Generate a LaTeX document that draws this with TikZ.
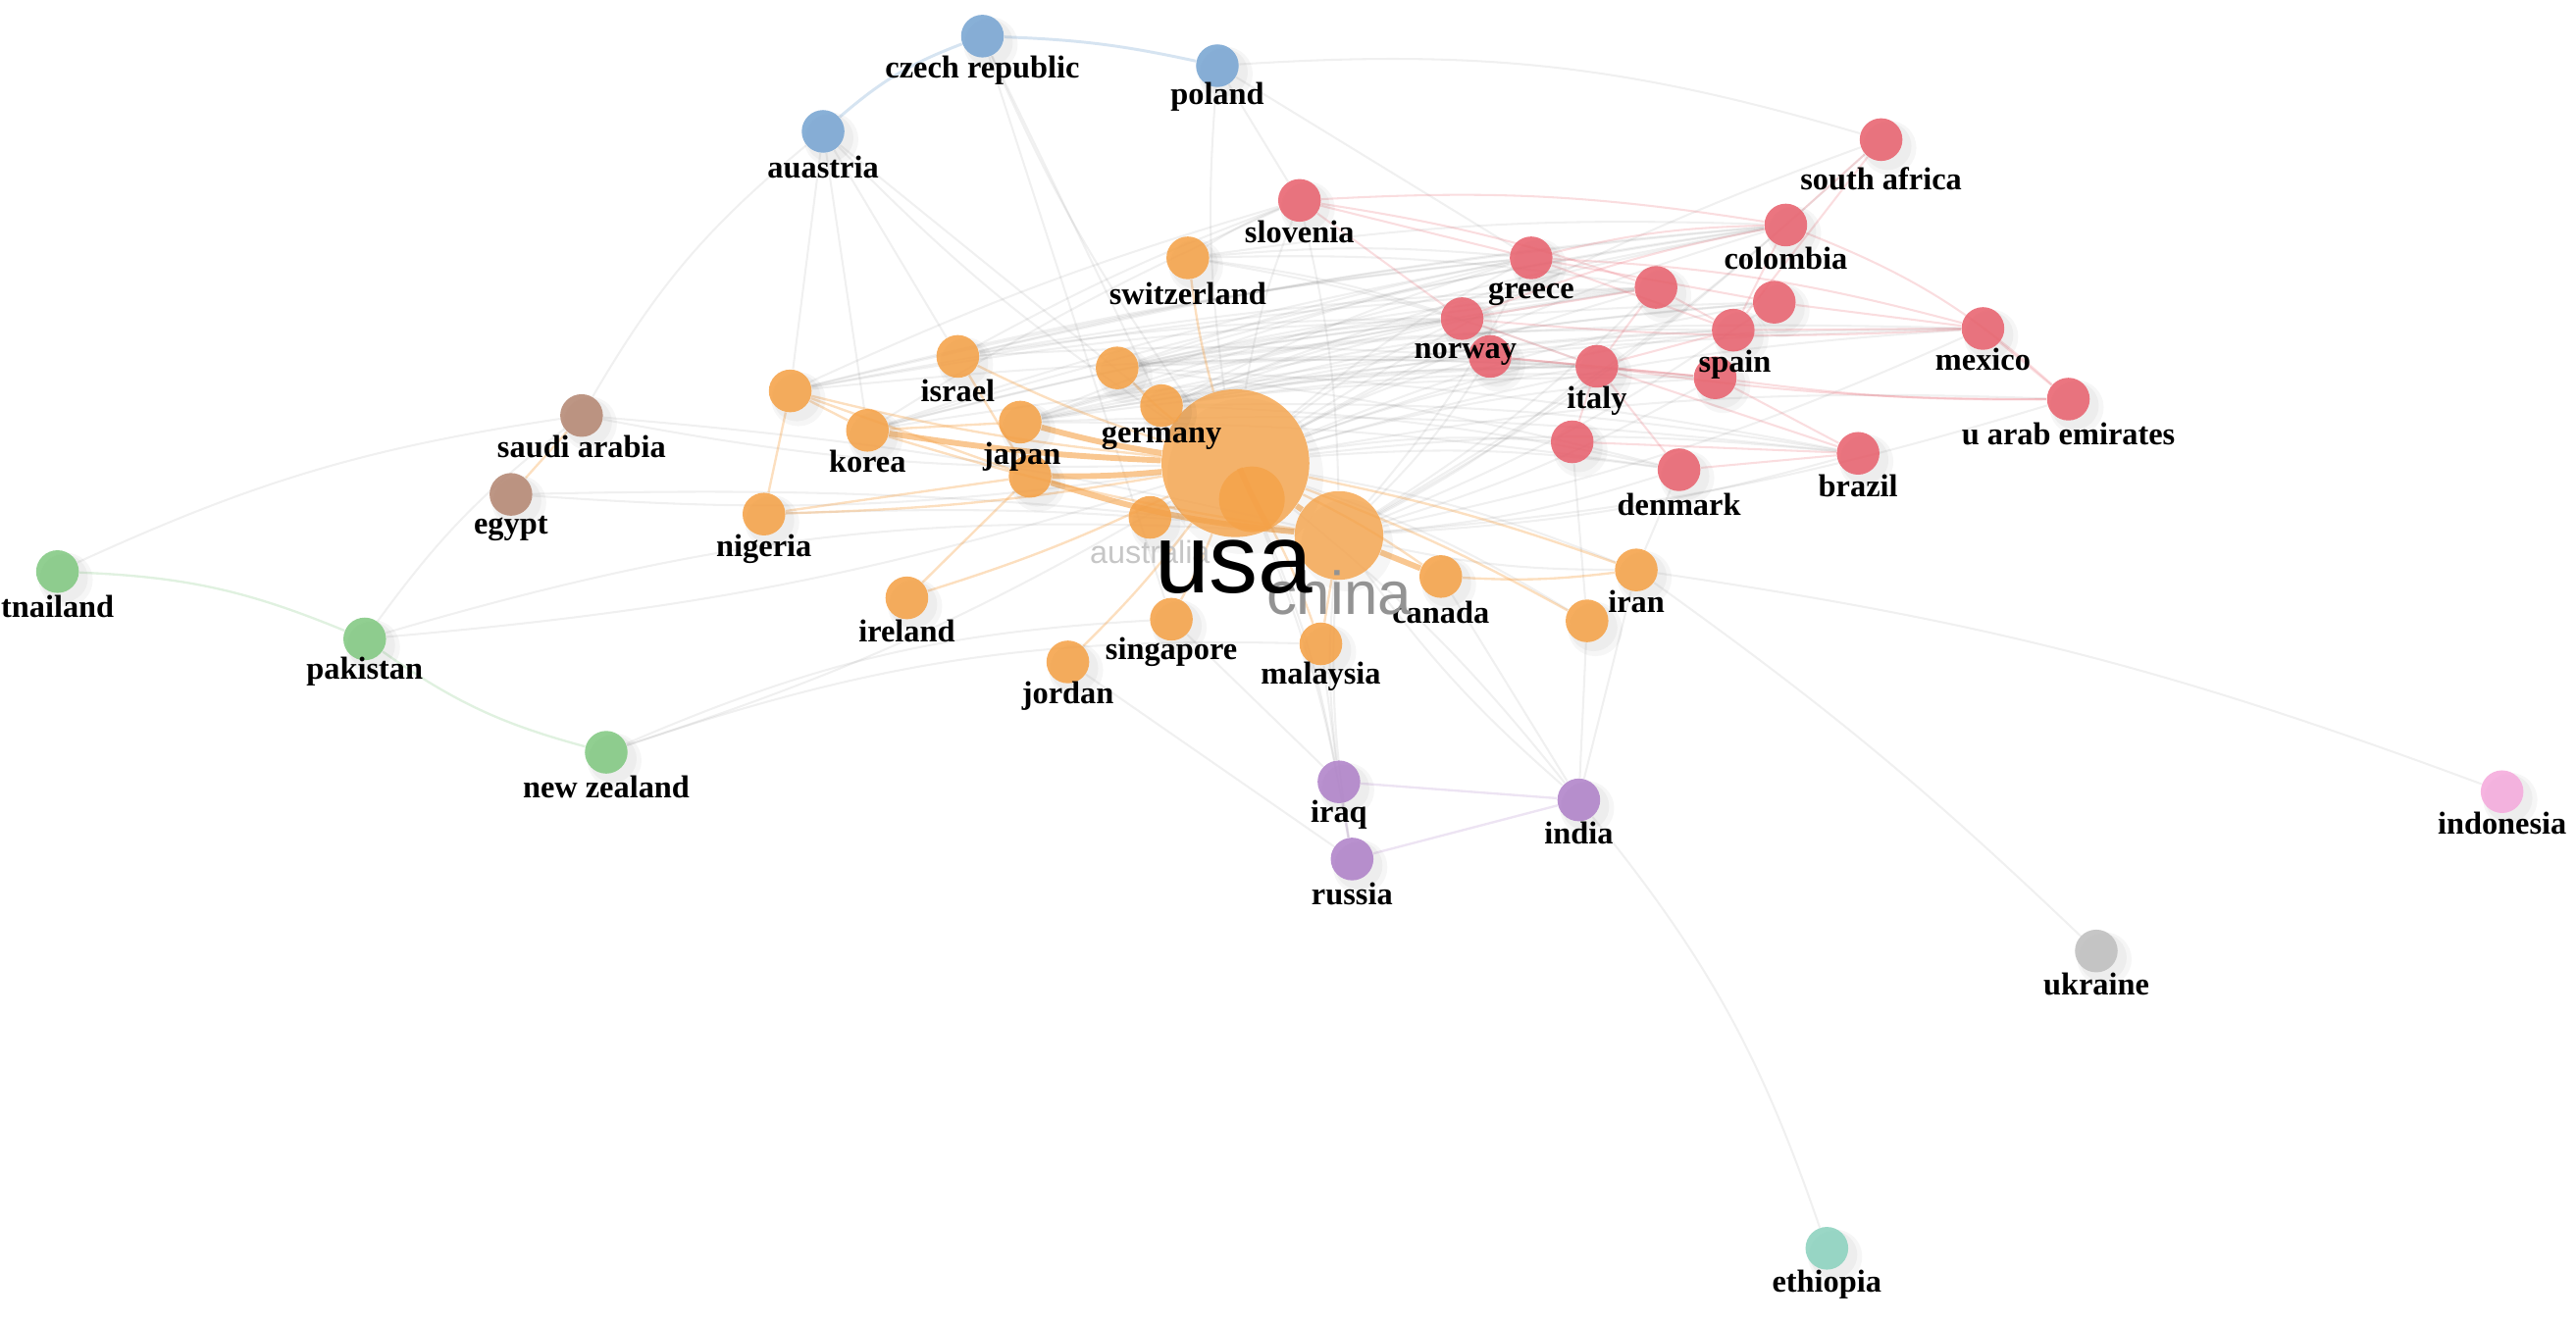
\documentclass[tikz,border=0pt]{standalone}
\usepackage{fontspec}
\setmainfont{Liberation Serif}
\newfontfamily\sansf{Liberation Sans}
\usetikzlibrary{backgrounds}
\definecolor{cOr}{RGB}{245,162,72}
\definecolor{cRd}{RGB}{232,98,110}
\definecolor{cBl}{RGB}{120,165,210}
\definecolor{cGn}{RGB}{130,200,130}
\definecolor{cPu}{RGB}{175,130,200}
\definecolor{cBr}{RGB}{180,135,115}
\definecolor{cPk}{RGB}{245,170,220}
\definecolor{cGy}{RGB}{190,190,190}
\definecolor{cTl}{RGB}{140,210,190}
\newcommand\un[4]{\fill[shd] (#2,#3) ++(4,4) circle (0.29cm); \fill[shd] (#2,#3) ++(5,5) circle (0.33cm); \node[nd,fill=#4] (#1) at (#2,#3) {};}
\newcommand\cn[6]{\un{#1}{#2}{#3}{#4} \node[lab] (#1-l) at (#2,#6) {#5};}
\begin{document}
\begin{tikzpicture}[x=0.02cm,y=-0.02cm,
  nd/.style={circle,inner sep=0pt,minimum size=0.52cm,opacity=0.88},
  shd/.style={black,opacity=0.035},
  lab/.style={font=\bfseries\fontsize{11}{12}\selectfont,inner sep=0pt,text=black},
  ge/.style={draw=gray,opacity=0.12,line width=0.7pt},
  oe/.style={draw=cOr,opacity=0.35,line width=0.8pt},
  oet/.style={draw=cOr,opacity=0.6,line width=2pt},
  re/.style={draw=cRd,opacity=0.22,line width=0.7pt},
  be/.style={draw=cBl,opacity=0.3,line width=1pt},
  gre/.style={draw=cGn,opacity=0.25,line width=0.8pt},
  pe/.style={draw=cPu,opacity=0.22,line width=0.8pt}]
\useasboundingbox (0,0) rectangle (1568,805);
% big orange nodes
\fill[shd] (758,290) circle (0.95cm);
\node[nd,fill=cOr,minimum size=1.8cm,opacity=0.8] (usa) at (752,282) {};
\node[nd,fill=cOr,minimum size=0.8cm,opacity=0.8] (o3) at (762,304) {};
\fill[shd] (820,332) circle (0.56cm);
\node[nd,fill=cOr,minimum size=1.08cm,opacity=0.8] (chn) at (815,326) {};
\un{aus}{700}{315}{cOr}
% blue
\cn{cz}{598}{22}{cBl}{czech republic}{43}
\cn{pl}{741}{40}{cBl}{poland}{59}
\cn{au}{501}{80}{cBl}{auastria}{102}
% red
\cn{saf}{1145}{85}{cRd}{south africa}{109}
\cn{slo}{791}{122}{cRd}{slovenia}{141}
\cn{col}{1087}{137}{cRd}{colombia}{157}
\cn{gr}{932}{157}{cRd}{greece}{179}
\un{r1}{1008}{175}{cRd}
\un{r2}{1080}{184}{cRd}
\un{nor1}{890}{194}{cRd}
\un{nor2}{907}{217}{cRd}
\node[lab] (nor-l) at (892,216) {norway};
\cn{ita}{972}{223}{cRd}{italy}{244}
\un{sp1}{1055}{201}{cRd}
\un{sp2}{1044}{230}{cRd}
\node[lab] (sp-l) at (1056,222) {spain};
\cn{mex}{1207}{200}{cRd}{mexico}{219}
\cn{uae}{1259}{243}{cRd}{u arab emirates}{264}
\un{r3}{957}{269}{cRd}
\cn{den}{1022}{286}{cRd}{denmark}{307}
\cn{bra}{1131}{276}{cRd}{brazil}{296}
% orange
\cn{swi}{723}{157}{cOr}{switzerland}{179}
\cn{isr}{583}{217}{cOr}{israel}{238}
\un{o1}{481}{238}{cOr}
\un{o2}{680}{224}{cOr}
\cn{ger}{707}{247}{cOr}{germany}{267}
\cn{kor}{528}{262}{cOr}{korea}{281}
\un{jap1}{621}{257}{cOr}
\un{jap2}{627}{290}{cOr}
\node[lab] (jap-l) at (622,278) {japan};
\cn{nig}{465}{313}{cOr}{nigeria}{334}
\cn{ire}{552}{364}{cOr}{ireland}{384}
\cn{sin}{713}{377}{cOr}{singapore}{397}
\cn{jor}{650}{403}{cOr}{jordan}{424}
\cn{mal}{804}{392}{cOr}{malaysia}{412}
\cn{can}{877}{351}{cOr}{canada}{373}
\cn{iran}{996}{347}{cOr}{iran}{366}
\un{o4}{966}{378}{cOr}
% brown
\cn{sau}{354}{253}{cBr}{saudi arabia}{272}
\cn{egy}{311}{301}{cBr}{egypt}{322}
% green
\cn{tha}{35}{348}{cGn}{tnailand}{369}
\cn{pak}{222}{389}{cGn}{pakistan}{409}
\cn{nz}{369}{458}{cGn}{new zealand}{479}
% purple
\cn{irq}{815}{476}{cPu}{iraq}{496}
\cn{ind}{961}{487}{cPu}{india}{507}
\cn{rus}{823}{523}{cPu}{russia}{544}
% others
\cn{indo}{1523}{482}{cPk}{indonesia}{501}
\cn{ukr}{1276}{579}{cGy}{ukraine}{599}
\cn{eth}{1112}{760}{cTl}{ethiopia}{782}
% big labels
\node[font=\sansf\fontsize{11}{11}\selectfont,text=gray!45,inner sep=0pt] (aus-l) at (700,336) {australia};
\node[font=\sansf\fontsize{21}{21}\selectfont,text=gray!85,inner sep=0pt] (chn-l) at (815,361) {china};
\node[font=\sansf\fontsize{34}{34}\selectfont,text=black,inner sep=0pt] (usa-l) at (751,345) {usa};
\begin{pgfonlayer}{background}
\foreach \t in {slo,gr,r1,r2,nor1,nor2,ita,sp1,sp2,col,mex,uae,r3,den,bra,saf,iran,o4,irq,ind,rus,sau,egy,pak,nz,au,cz,pl}
  \draw[ge] (usa) to[bend left=6] (\t);
\foreach \t in {gr,ita,sp2,den,bra,mex,uae,col,r1,r2,nor2,iran,ind,irq,rus,saf,slo}
  \draw[ge] (chn) to[bend right=6] (\t);
\foreach \t in {gr,ita,sp1,sp2,r1,r2,nor1,col,den,bra,mex}
  {\draw[ge] (ger) to[bend left=5] (\t); \draw[ge] (o2) to[bend left=4] (\t); \draw[ge] (jap1) to[bend left=4] (\t);}
\foreach \t in {gr,slo,nor1,ita,r1,col}
  {\draw[ge] (swi) to[bend left=5] (\t); \draw[ge] (kor) to[bend left=4] (\t); \draw[ge] (isr) to[bend left=4] (\t); \draw[ge] (o1) to[bend left=4] (\t);}
\draw[ge] (tha) to[bend left=8] (sau);
\draw[ge] (pak) to[bend left=8] (sau);
\draw[ge] (pak) to[bend left=10] (chn);
\draw[ge] (nz) to[bend left=10] (sin);
\draw[ge] (nz) to[bend left=10] (mal);
\draw[ge] (au) to[bend right=10] (sau);
\draw[ge] (au) to (o1);
\draw[ge] (au) to (kor);
\draw[ge] (au) to (isr);
\draw[ge] (au) to (ger);
\draw[ge] (cz) to (ger);
\draw[ge] (cz) to (sin);
\draw[ge] (pl) to (slo);
\draw[ge] (pl) to (gr);
\draw[ge] (pl) to[bend left=10] (saf);
\draw[ge] (eth) to[bend right=10] (ind);
\draw[ge] (ukr) to[bend right=4] (iran);
\draw[ge] (iran) to[bend left=6] (indo);
\draw[ge] (egy) to[bend left=4] (chn);
\draw[ge] (sau) to[bend left=4] (chn);
\draw[ge] (nig) to[bend left=4] (chn);
\draw[ge] (ind) to (iran);
\draw[ge] (ind) to (can);
\draw[ge] (ind) to (o4);
\draw[ge] (irq) to (sin);
\draw[ge] (irq) to (mal);
\draw[ge] (rus) to (jor);
\draw[ge] (o4) to (r3);
\draw[ge] (iran) to (den);
% orange edges
\foreach \t in {o1,isr,ger,o2,swi,nig,ire,sin,jor,mal,aus,iran,o4,can}
  \draw[oe] (usa) to[bend left=4] (\t);
\foreach \t in {jap1,jap2,kor,o3}
  \draw[oet] (usa) to[bend left=3] (\t);
\draw[oet] (chn) to[bend left=6] (jap2);
\draw[oet] (chn) to (can);
\draw[oet] (usa) to (chn);
\draw[oe] (chn) to[bend left=4] (kor);
\draw[oe] (chn) to (mal);
\draw[oe] (jap1) to (kor);
\draw[oe] (o1) to (kor);
\draw[oe] (o1) to (nig);
\draw[oe] (o1) to (jap2);
\draw[oe] (isr) to (jap2);
\draw[oe] (sau) to (egy);
\draw[oe] (ire) to (jap2);
\draw[oe] (nig) to (jap2);
\draw[oe] (iran) to[bend left=5] (can);
% red edges
\draw[re] (gr) to[bend left=6] (col);
\draw[re] (gr) to (sp1);
\draw[re] (gr) to (r2);
\draw[re] (gr) to[bend left=6] (mex);
\draw[re] (nor1) to (ita);
\draw[re] (nor2) to (ita);
\draw[re] (nor2) to (sp2);
\draw[re] (nor1) to (r1);
\draw[re] (ita) to (sp1);
\draw[re] (ita) to (sp2);
\draw[re] (ita) to (r1);
\draw[re] (sp1) to (mex);
\draw[re] (sp2) to[bend right=4] (uae);
\draw[re] (col) to[bend left=10] (uae);
\draw[re] (col) to (sp1);
\draw[re] (r2) to (mex);
\draw[re] (r1) to (sp1);
\draw[re] (bra) to (sp2);
\draw[re] (bra) to (den);
\draw[re] (bra) to (r3);
\draw[re] (bra) to (ita);
\draw[re] (den) to (ita);
\draw[re] (r3) to (ita);
\draw[re] (slo) to (gr);
\draw[re] (slo) to[bend left=5] (r1);
\draw[re] (slo) to[bend left=6] (col);
\draw[re] (slo) to (nor1);
\draw[re] (saf) to (col);
\draw[re] (saf) to (sp1);
\draw[re] (nor1) to[bend left=5] (col);
\draw[re] (nor1) to[bend right=4] (mex);
\draw[re] (mex) to (uae);
\draw[re] (ita) to[bend right=4] (uae);
% blue / green / purple
\draw[be] (cz) to[bend right=10] (au);
\draw[be] (cz) to[bend left=5] (pl);
\draw[gre] (tha) to[bend left=10] (pak);
\draw[gre] (pak) to[bend right=10] (nz);
\draw[pe] (irq) to (ind);
\draw[pe] (irq) to (rus);
\draw[pe] (ind) to (rus);
\end{pgfonlayer}
\end{tikzpicture}
\end{document}
